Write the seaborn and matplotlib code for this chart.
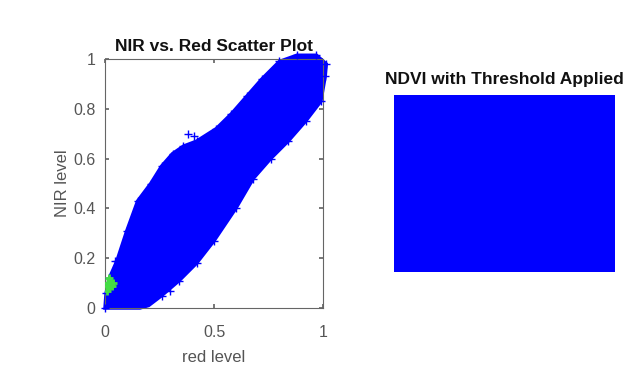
import numpy as np
import pandas as pd
import matplotlib
matplotlib.use("Agg")
import matplotlib.pyplot as plt
import seaborn as sns

# Outline of the dense NIR-vs-red point cloud
upper_x = [0.00, 0.005, 0.02, 0.055, 0.10, 0.15, 0.21, 0.26, 0.31, 0.36, 0.42, 0.51, 0.58, 0.65, 0.72, 0.80, 0.88, 0.97]
upper_y = [0.00, 0.06, 0.12, 0.19, 0.31, 0.43, 0.50, 0.57, 0.62, 0.65, 0.67, 0.72, 0.78, 0.85, 0.92, 0.99, 1.015, 1.015]
lower_x = [1.015, 1.01, 0.99, 0.92, 0.84, 0.76, 0.68, 0.60, 0.50, 0.42, 0.34, 0.26, 0.20, 0.16, 0.08, 0.00]
lower_y = [0.98, 0.93, 0.83, 0.75, 0.67, 0.60, 0.52, 0.40, 0.27, 0.18, 0.11, 0.05, 0.01, 0.00, 0.00, 0.00]

# Sparse outlier crosses around the cloud
out_x = [0.38, 0.41, 0.57, 0.83, 0.045, 0.30]
out_y = [0.70, 0.69, 0.59, 0.72, 0.19, 0.07]

# Green (thresholded) points near origin
green_x = [0.01, 0.02, 0.015, 0.025, 0.01, 0.03, 0.02, 0.035]
green_y = [0.07, 0.08, 0.10, 0.11, 0.09, 0.09, 0.12, 0.10]

# NDVI thresholded image: all pixels in one class
ndvi_img = np.ones((20, 25))

x_ticks = [0, 0.5, 1]
x_ticklabels = ["0", "0.5", "1"]
y_ticks = [0, 0.2, 0.4, 0.6, 0.8, 1]
y_ticklabels = ["0", "0.2", "0.4", "0.6", "0.8", "1"]

sns.set_theme(style="white")
plt.rcParams["font.family"] = ["Liberation Sans", "DejaVu Sans"]

fig = plt.figure(figsize=(6.38, 3.67), dpi=100)
ax1 = fig.add_axes([105 / 638, 1 - 308 / 367, 218 / 638, 249 / 367])
ax2 = fig.add_axes([394 / 638, 1 - 272 / 367, 221 / 638, 177 / 367])

blue = "#0000ff"
# dense cloud
poly_x = upper_x + lower_x
poly_y = upper_y + lower_y
ax1.fill(poly_x, poly_y, color=blue, lw=2.5, edgecolor=blue, zorder=2, clip_on=False)
edge_df = pd.DataFrame({"x": upper_x + lower_x[:12] + out_x,
                        "y": upper_y + lower_y[:12] + out_y})
sns.scatterplot(data=edge_df, x="x", y="y", marker="+", color=blue, s=28,
                linewidth=1.0, ax=ax1, zorder=3, clip_on=False)
green_df = pd.DataFrame({"x": green_x, "y": green_y})
sns.scatterplot(data=green_df, x="x", y="y", marker="+", color="#44dd44", s=40,
                linewidth=2.0, ax=ax1, zorder=4)

ax1.set_xlim(0, 1)
ax1.set_ylim(0, 1)
ax1.set_xticks(x_ticks)
ax1.set_xticklabels(x_ticklabels)
ax1.set_yticks(y_ticks)
ax1.set_yticklabels(y_ticklabels)
ax1.tick_params(direction="in", length=3, color="#666666", labelsize=11.5,
                labelcolor="#555555", top=True, right=True, bottom=True, left=True)
ax1.tick_params(axis="x", pad=12.5)
ax1.tick_params(axis="y", pad=7)
for sp in ax1.spines.values():
    sp.set_color("#666666")
    sp.set_linewidth(0.8)
ax1.set_xlabel("red level", fontsize=12, color="#555555", labelpad=7)
ax1.set_ylabel("NIR level", fontsize=12, color="#555555", labelpad=2)
ax1.set_title("NIR vs. Red Scatter Plot", fontsize=12.5, fontweight="bold",
              color="#111111", pad=6)

sns.heatmap(ndvi_img, cmap=[blue], cbar=False, xticklabels=False,
            yticklabels=False, ax=ax2)
ax2.set_title("NDVI with Threshold Applied", fontsize=12.5, fontweight="bold",
              color="#111111", pad=8)

fig.savefig("out.png", dpi=100)
